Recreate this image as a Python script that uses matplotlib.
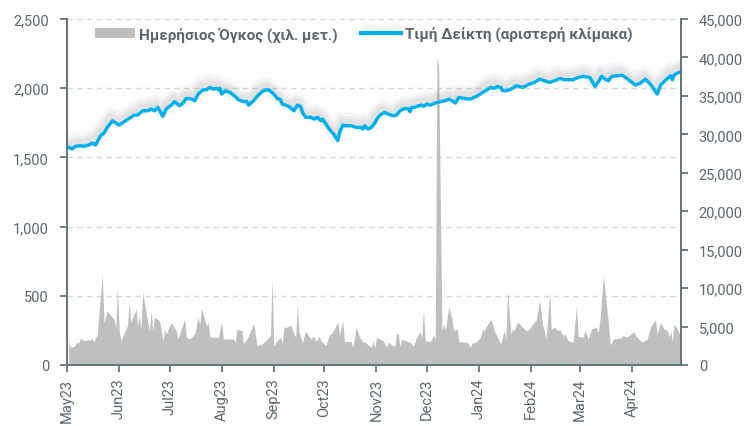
import matplotlib
matplotlib.use("Agg")
import matplotlib.pyplot as plt
import matplotlib.patheffects as pe
from matplotlib.ticker import FuncFormatter
from matplotlib.patches import Patch
from matplotlib.lines import Line2D
import pandas as pd

# daily volume (thousand units, right scale) - vertices
vol_dates = [
    "2023-05-02", "2023-05-03", "2023-05-05", "2023-05-07", "2023-05-08", "2023-05-09", "2023-05-11",
    "2023-05-15", "2023-05-16", "2023-05-17", "2023-05-19", "2023-05-22", "2023-05-23", "2023-05-25",
    "2023-05-27", "2023-05-29", "2023-05-30", "2023-05-31", "2023-06-01", "2023-06-02", "2023-06-06",
    "2023-06-07", "2023-06-08", "2023-06-11", "2023-06-12", "2023-06-13", "2023-06-14", "2023-06-15",
    "2023-06-17", "2023-06-19", "2023-06-20", "2023-06-21", "2023-06-22", "2023-06-25", "2023-06-26",
    "2023-06-27", "2023-06-28", "2023-06-29", "2023-07-02", "2023-07-05", "2023-07-06", "2023-07-10",
    "2023-07-11", "2023-07-13", "2023-07-16", "2023-07-18", "2023-07-19", "2023-07-20", "2023-07-23",
    "2023-07-24", "2023-07-25", "2023-07-30", "2023-08-01", "2023-08-02", "2023-08-08", "2023-08-09",
    "2023-08-10", "2023-08-13", "2023-08-14", "2023-08-17", "2023-08-20", "2023-08-22", "2023-08-25",
    "2023-08-28", "2023-08-30", "2023-08-31", "2023-09-01", "2023-09-03", "2023-09-05", "2023-09-06",
    "2023-09-07", "2023-09-09", "2023-09-11", "2023-09-13", "2023-09-14", "2023-09-15", "2023-09-16",
    "2023-09-18", "2023-09-20", "2023-09-21", "2023-09-23", "2023-09-25", "2023-09-26", "2023-09-28",
    "2023-09-29", "2023-10-02", "2023-10-04", "2023-10-06", "2023-10-09", "2023-10-10", "2023-10-12",
    "2023-10-13", "2023-10-17", "2023-10-18", "2023-10-20", "2023-10-22", "2023-10-24", "2023-10-25",
    "2023-10-27", "2023-10-29", "2023-10-30", "2023-10-31", "2023-11-01", "2023-11-05", "2023-11-07",
    "2023-11-08", "2023-11-10", "2023-11-12", "2023-11-13", "2023-11-14", "2023-11-15", "2023-11-16",
    "2023-11-18", "2023-11-21", "2023-11-23", "2023-11-25", "2023-11-27", "2023-11-28", "2023-11-29",
    "2023-11-30", "2023-12-03", "2023-12-05", "2023-12-06", "2023-12-07", "2023-12-08", "2023-12-10",
    "2023-12-11", "2023-12-12", "2023-12-14", "2023-12-16", "2023-12-17", "2023-12-19", "2023-12-20",
    "2023-12-25", "2023-12-27", "2023-12-28", "2023-12-30", "2024-01-02", "2024-01-03", "2024-01-04",
    "2024-01-08", "2024-01-09", "2024-01-10", "2024-01-12", "2024-01-14", "2024-01-16", "2024-01-17",
    "2024-01-18", "2024-01-20", "2024-01-21", "2024-01-22", "2024-01-24", "2024-01-26", "2024-01-29",
    "2024-01-31", "2024-02-02", "2024-02-04", "2024-02-06", "2024-02-08", "2024-02-10", "2024-02-12",
    "2024-02-13", "2024-02-15", "2024-02-17", "2024-02-18", "2024-02-20", "2024-02-21", "2024-02-23",
    "2024-02-26", "2024-02-28", "2024-02-29", "2024-03-03", "2024-03-04", "2024-03-06", "2024-03-08",
    "2024-03-11", "2024-03-12", "2024-03-13", "2024-03-15", "2024-03-17", "2024-03-18", "2024-03-19",
    "2024-03-21", "2024-03-25", "2024-03-27", "2024-03-29", "2024-04-02", "2024-04-04", "2024-04-07",
    "2024-04-10", "2024-04-12", "2024-04-15", "2024-04-16", "2024-04-18", "2024-04-20", "2024-04-22",
    "2024-04-23", "2024-04-24", "2024-04-25", "2024-04-26", "2024-04-28", "2024-04-29", "2024-04-30",
]
vol_values = [
    3160, 2300, 2400, 2950, 2860, 3500, 3160,
    3300, 3470, 3030, 4000, 11830, 5550, 7060,
    6420, 5980, 4680, 10100, 4680, 3160, 5110,
    8230, 5550, 7280, 5110, 6420, 4680, 9530,
    6850, 4460, 7060, 4460, 6200, 5770, 4680,
    3160, 4680, 4030, 5460, 4460, 3380, 5980,
    3600, 3380, 4030, 6200, 5330, 7370, 5110,
    5550, 3600, 3600, 5550, 3380, 3380, 2950,
    4600, 4510, 2730, 3820, 5460, 2510, 2730,
    3380, 3820, 11190, 2510, 3160, 3600, 2730,
    4900, 4900, 5200, 4030, 3600, 7930, 4250,
    2950, 4460, 4030, 3380, 3730, 3030, 3730,
    3160, 2510, 3900, 4250, 5640, 3900, 5770,
    3030, 3030, 2300, 4900, 3600, 2950, 3030,
    2600, 2300, 3160, 2170, 3600, 3160, 2300,
    2950, 2600, 2430, 4160, 4030, 2430, 3380,
    3160, 2950, 2430, 3600, 4330, 3380, 7280,
    3160, 3030, 3820, 3380, 40000, 39000, 4460,
    5330, 4460, 7500, 5980, 4460, 4680, 3030,
    2950, 2300, 2860, 2950, 3600, 4600, 4460,
    5980, 5330, 4460, 3600, 2730, 4460, 3380,
    9670, 4030, 4680, 4460, 5640, 5110, 4460,
    4680, 5330, 5770, 8360, 5110, 3470, 9450,
    4600, 4900, 4460, 4600, 3820, 4030, 3160,
    2950, 7720, 3730, 3600, 4460, 3380, 4680,
    4900, 4250, 5980, 11620, 7280, 5550, 2600,
    3380, 3470, 3820, 3600, 4330, 3600, 2950,
    3380, 4900, 5900, 4030, 5550, 4680, 4460,
    3600, 4460, 3030, 5330, 4680, 4160, 4100,
]

# index price (left scale)
idx_dates = [
    "2023-05-02", "2023-05-04", "2023-05-06", "2023-05-09", "2023-05-11", "2023-05-14", "2023-05-16",
    "2023-05-18", "2023-05-21", "2023-05-23", "2023-05-25", "2023-05-28", "2023-06-01", "2023-06-04",
    "2023-06-07", "2023-06-10", "2023-06-12", "2023-06-15", "2023-06-18", "2023-06-20", "2023-06-22",
    "2023-06-24", "2023-06-27", "2023-06-29", "2023-07-02", "2023-07-04", "2023-07-07", "2023-07-09",
    "2023-07-11", "2023-07-14", "2023-07-16", "2023-07-18", "2023-07-21", "2023-07-23", "2023-07-25",
    "2023-07-27", "2023-07-29", "2023-07-30", "2023-07-31", "2023-08-01", "2023-08-03", "2023-08-06",
    "2023-08-09", "2023-08-11", "2023-08-14", "2023-08-16", "2023-08-17", "2023-08-20", "2023-08-22",
    "2023-08-25", "2023-08-27", "2023-08-29", "2023-09-01", "2023-09-03", "2023-09-05", "2023-09-06",
    "2023-09-08", "2023-09-10", "2023-09-13", "2023-09-15", "2023-09-17", "2023-09-18", "2023-09-20",
    "2023-09-23", "2023-09-25", "2023-09-27", "2023-09-29", "2023-09-30", "2023-10-02", "2023-10-04",
    "2023-10-07", "2023-10-09", "2023-10-10", "2023-10-12", "2023-10-13", "2023-10-17", "2023-10-20",
    "2023-10-23", "2023-10-24", "2023-10-25", "2023-10-27", "2023-10-29", "2023-10-31", "2023-11-02",
    "2023-11-04", "2023-11-06", "2023-11-08", "2023-11-11", "2023-11-13", "2023-11-15", "2023-11-18",
    "2023-11-20", "2023-11-21", "2023-11-22", "2023-11-24", "2023-11-26", "2023-11-28", "2023-11-29",
    "2023-12-01", "2023-12-03", "2023-12-06", "2023-12-09", "2023-12-12", "2023-12-14", "2023-12-16",
    "2023-12-18", "2023-12-20", "2023-12-23", "2023-12-26", "2023-12-28", "2023-12-31", "2024-01-02",
    "2024-01-05", "2024-01-08", "2024-01-10", "2024-01-12", "2024-01-14", "2024-01-15", "2024-01-18",
    "2024-01-21", "2024-01-23", "2024-01-25", "2024-01-27", "2024-01-29", "2024-01-31", "2024-02-03",
    "2024-02-06", "2024-02-09", "2024-02-12", "2024-02-15", "2024-02-18", "2024-02-21", "2024-02-24",
    "2024-02-26", "2024-02-29", "2024-03-03", "2024-03-07", "2024-03-10", "2024-03-12", "2024-03-14",
    "2024-03-16", "2024-03-18", "2024-03-20", "2024-03-23", "2024-03-26", "2024-03-29", "2024-04-01",
    "2024-04-03", "2024-04-06", "2024-04-09", "2024-04-11", "2024-04-13", "2024-04-14", "2024-04-16",
    "2024-04-18", "2024-04-20", "2024-04-22", "2024-04-24", "2024-04-25", "2024-04-26", "2024-04-28",
    "2024-04-30",
]
idx_values = [
    1573, 1561, 1580, 1585, 1580, 1590, 1604,
    1590, 1657, 1676, 1717, 1765, 1734, 1758,
    1782, 1806, 1806, 1837, 1837, 1850, 1837,
    1862, 1797, 1850, 1878, 1903, 1874, 1893,
    1927, 1922, 1910, 1958, 1989, 1989, 2006,
    1994, 2000, 1989, 2000, 1958, 1980, 1970,
    1941, 1917, 1903, 1905, 1878, 1910, 1941,
    1975, 1987, 1989, 1958, 1927, 1917, 1886,
    1878, 1869, 1837, 1878, 1869, 1826, 1790,
    1790, 1777, 1790, 1765, 1777, 1741, 1705,
    1662, 1621, 1676, 1734, 1729, 1729, 1717,
    1717, 1705, 1729, 1705, 1717, 1748, 1790,
    1813, 1826, 1813, 1801, 1806, 1837, 1855,
    1850, 1830, 1862, 1862, 1874, 1878, 1869,
    1886, 1878, 1893, 1903, 1910, 1922, 1910,
    1893, 1934, 1927, 1922, 1927, 1946, 1960,
    1983, 2006, 1999, 2013, 2006, 1983, 1983,
    1999, 2018, 2013, 2006, 2018, 2030, 2042,
    2066, 2054, 2042, 2054, 2071, 2062, 2062,
    2062, 2078, 2086, 2078, 2013, 2047, 2086,
    2066, 2054, 2086, 2090, 2095, 2071, 2042,
    2023, 2037, 2066, 2042, 2013, 1994, 1958,
    2023, 2047, 2071, 2090, 2062, 2095, 2110,
    2119,
]

month_labels = ["May23", "Jun23", "Jul23", "Aug23", "Sep23", "Oct23", "Nov23",
                "Dec23", "Jan24", "Feb24", "Mar24", "Apr24"]

vol_label = "Ημερήσιος Όγκος (χιλ. μετ.)"
idx_label = "Τιμή Δείκτη (αριστερή κλίμακα)"

text_col = "#5b6770"
spine_col = "#66757a"
area_col = "#bfbfbf"
line_col = "#00b0f0"

plt.rcParams["font.family"] = ["Roboto", "DejaVu Sans"]

fig = plt.figure(figsize=(7.44, 4.27), dpi=100)
ax = fig.add_axes([0.090, 0.143, 0.825, 0.810])
ax2 = ax.twinx()

# volume area behind, index line in front
ax.set_zorder(2)
ax.patch.set_visible(False)
ax2.set_zorder(1)

vd = pd.to_datetime(vol_dates)
idd = pd.to_datetime(idx_dates)

idx_max, vol_max = 2500, 45000
left_ticks = list(range(0, idx_max + 1, 500))

# horizontal dashed grid (left scale), drawn under the area
for v in left_ticks[1:]:
    ax2.axhline(v * vol_max / idx_max, color="#d9d9d9", lw=1.0, ls=(0, (4, 3)), zorder=0)

ax2.fill_between(vd, vol_values, color=area_col, lw=0, zorder=2)

# soft grey glow above the line, like the excel shadow
glow = [pe.SimpleLineShadow(offset=(-1, 4), shadow_color="#777777", alpha=0.06, linewidth=11),
        pe.SimpleLineShadow(offset=(-1, 3.5), shadow_color="#777777", alpha=0.08, linewidth=7),
        pe.SimpleLineShadow(offset=(-1, 3), shadow_color="#777777", alpha=0.08, linewidth=4),
        pe.Normal()]
ax.plot(idd, idx_values, color=line_col, lw=2.4, solid_joinstyle="round", path_effects=glow)

ax.set_ylim(0, idx_max)
ax.set_yticks(left_ticks)
ax2.set_ylim(0, vol_max)
ax2.set_yticks(range(0, vol_max + 1, 5000))

start, end = pd.Timestamp("2023-05-01"), pd.Timestamp("2024-04-30")
ax.set_xlim(start, end)
ticks = pd.date_range(start, periods=len(month_labels), freq="MS")
ax.set_xticks(ticks)
ax.set_xticklabels(month_labels, rotation=90)

fmt = FuncFormatter(lambda v, p: f"{v:,.0f}")
ax.yaxis.set_major_formatter(fmt)
ax2.yaxis.set_major_formatter(fmt)

for a in (ax, ax2):
    a.spines["top"].set_visible(False)
    for s in ("left", "right", "bottom"):
        a.spines[s].set_color(spine_col)
        a.spines[s].set_linewidth(1.3)
    a.tick_params(colors=spine_col, labelcolor=text_col, labelsize=10.5,
                  length=5, width=1.3)
    a.tick_params(axis="y", pad=8)
ax.tick_params(axis="x", pad=4)

handles = [Patch(facecolor=area_col, edgecolor="none"),
           Line2D([], [], color=line_col, lw=3)]
leg = ax.legend(handles, [vol_label, idx_label], loc="center",
                bbox_to_anchor=(0.484, 0.957), ncol=2, frameon=False,
                handlelength=2.6, handleheight=0.6, handletextpad=0.3,
                columnspacing=1.5, prop={"weight": "bold", "size": 11})
for t in leg.get_texts():
    t.set_color(text_col)

fig.savefig("out.png", dpi=100)
